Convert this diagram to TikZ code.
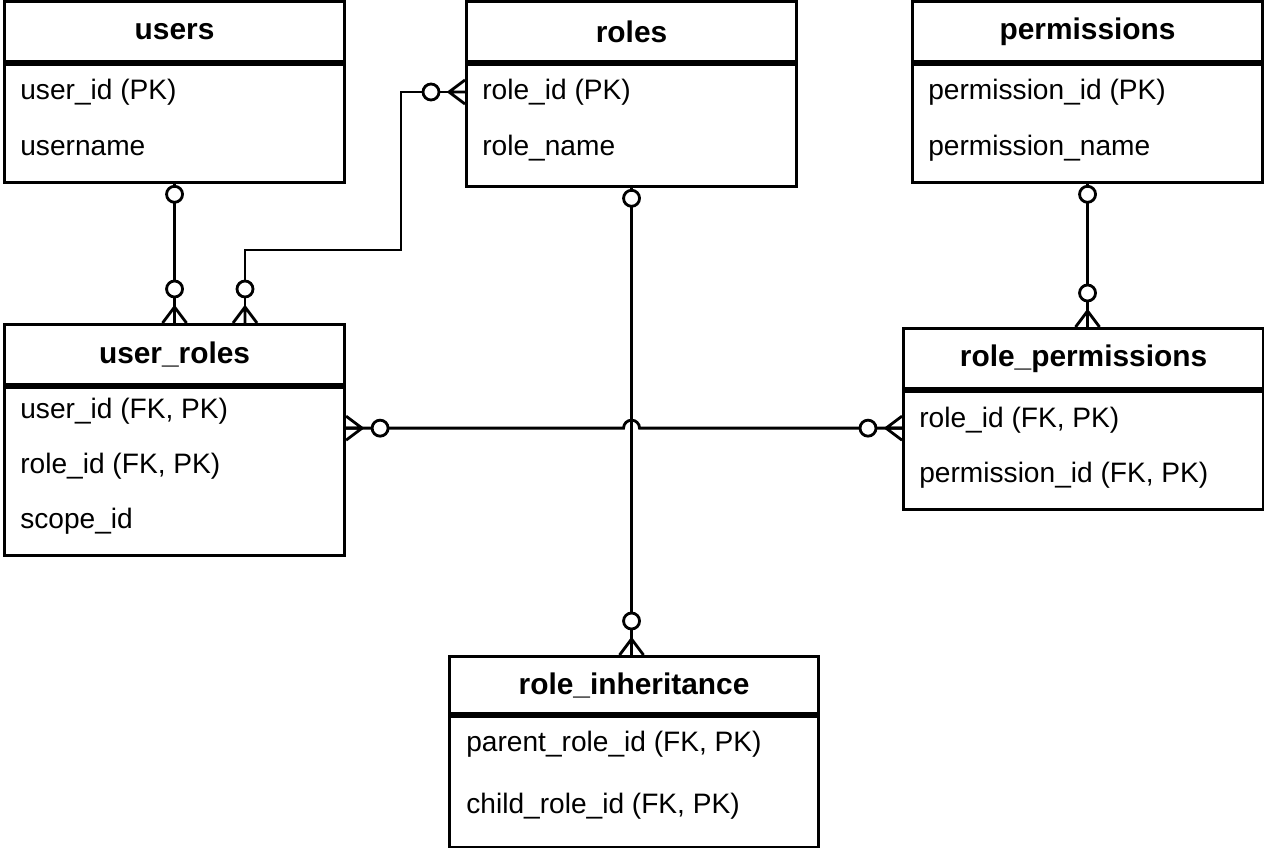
\documentclass[tikz,border=0pt]{standalone}
\usepackage{fontspec}
\setmainfont{Liberation Sans}
\usetikzlibrary{positioning,calc}
\tikzstyle{hdr}=[draw, line width=1.8pt, anchor=north west, inner sep=0pt, font=\fontsize{17}{20}\selectfont\bfseries]
\tikzstyle{bdy}=[draw, line width=1.8pt, anchor=north, inner sep=0pt]
\tikzstyle{fld}=[anchor=west, inner sep=0pt, font=\fontsize{16}{20}\selectfont]
\tikzstyle{rel}=[line width=1.6pt]
\tikzset{
  crow/.pic={\draw[rel] (-16,0) -- (0,0) (-16,0) -- (0,-12) (-16,0) -- (0,12);
    \draw[rel,fill=white] (-34,0) circle (8);},
  ring/.pic={\draw[rel,fill=white] (-10,0) circle (8);}
}

\begin{document}
\begin{tikzpicture}[x=0.02cm,y=-0.02cm]
\useasboundingbox (0,0) rectangle (1264,848);

% entities
\node[hdr, minimum width=6.8cm, minimum height=1.2cm] at (3,0) (users) {users};
\node[bdy, minimum width=6.8cm, minimum height=2.36cm] at (users.south) (usersb) {};
\node[fld] at (20,92) (u1) {user\_id (PK)};
\node[fld] at (20,148) (u2) {username};

\node[hdr, minimum width=6.6cm, minimum height=1.2cm] at (465,0) (roles) {roles};
\node[bdy, minimum width=6.6cm, minimum height=2.44cm] at (roles.south) (rolesb) {};
\node[fld] at (482,92) (r1) {role\_id (PK)};
\node[fld] at (482,148) (r2) {role\_name};

\node[hdr, minimum width=7cm, minimum height=1.2cm] at (911,0) (perm) {permissions};
\node[bdy, minimum width=7cm, minimum height=2.36cm] at (perm.south) (permb) {};
\node[fld] at (928,92) (p1) {permission\_id (PK)};
\node[fld] at (928,148) (p2) {permission\_name};

\node[hdr, minimum width=6.8cm, minimum height=1.2cm] at (3,323) (ur) {user\_roles};
\node[bdy, minimum width=6.8cm, minimum height=3.36cm] at (ur.south) (urb) {};
\node[fld] at (20,411) (ur1) {user\_id (FK, PK)};
\node[fld] at (20,466) (ur2) {role\_id (FK, PK)};
\node[fld] at (20,521) (ur3) {scope\_id};

\node[hdr, minimum width=7.2cm, minimum height=1.2cm] at (902,327) (rp) {role\_permissions};
\node[bdy, minimum width=7.2cm, minimum height=2.36cm] at (rp.south) (rpb) {};
\node[fld] at (919,420) (rp1) {role\_id (FK, PK)};
\node[fld] at (919,475) (rp2) {permission\_id (FK, PK)};

\node[hdr, minimum width=7.38cm, minimum height=1.14cm] at (448,655) (ri) {role\_inheritance};
\node[bdy, minimum width=7.38cm, minimum height=2.62cm] at (ri.south) (rib) {};
\node[fld] at (466,744) (ri1) {parent\_role\_id (FK, PK)};
\node[fld] at (466,806) (ri2) {child\_role\_id (FK, PK)};

% relations
\coordinate (urtop) at ($(ur.north west)+(242,0)$);
\coordinate (urR) at ($(urb.north east)+(0,42)$);
\coordinate (rpL) at (rpb.west |- urR);
\coordinate (hop) at (rolesb.south |- urR);
\draw[rel] (usersb.south) -- (usersb.south |- ur.north);
\draw[rel] (rolesb.west |- r1) -- ++(-64,0) |- ($(urtop)+(0,-73)$) -- (urtop);
\draw[rel] (permb.south) -- (permb.south |- rp.north);
\draw[rel] (rolesb.south) -- (rolesb.south |- ri.north);
\draw[rel] (urR) -- ($(hop)+(-8,0)$) arc (180:360:8) -- (rpL);

\pic[rotate=90] at (usersb.south) {ring};
\pic[rotate=-90] at (usersb.south |- ur.north) {crow};
\pic at (rolesb.west |- r1) {crow};
\pic[rotate=-90] at (urtop) {crow};
\pic[rotate=90] at (rolesb.south) {ring};
\pic[rotate=-90] at (rolesb.south |- ri.north) {crow};
\pic[rotate=90] at (permb.south) {ring};
\pic[rotate=-90] at (permb.south |- rp.north) {crow};
\pic[rotate=180] at (urR) {crow};
\pic at (rpL) {crow};
\end{tikzpicture}
\end{document}
